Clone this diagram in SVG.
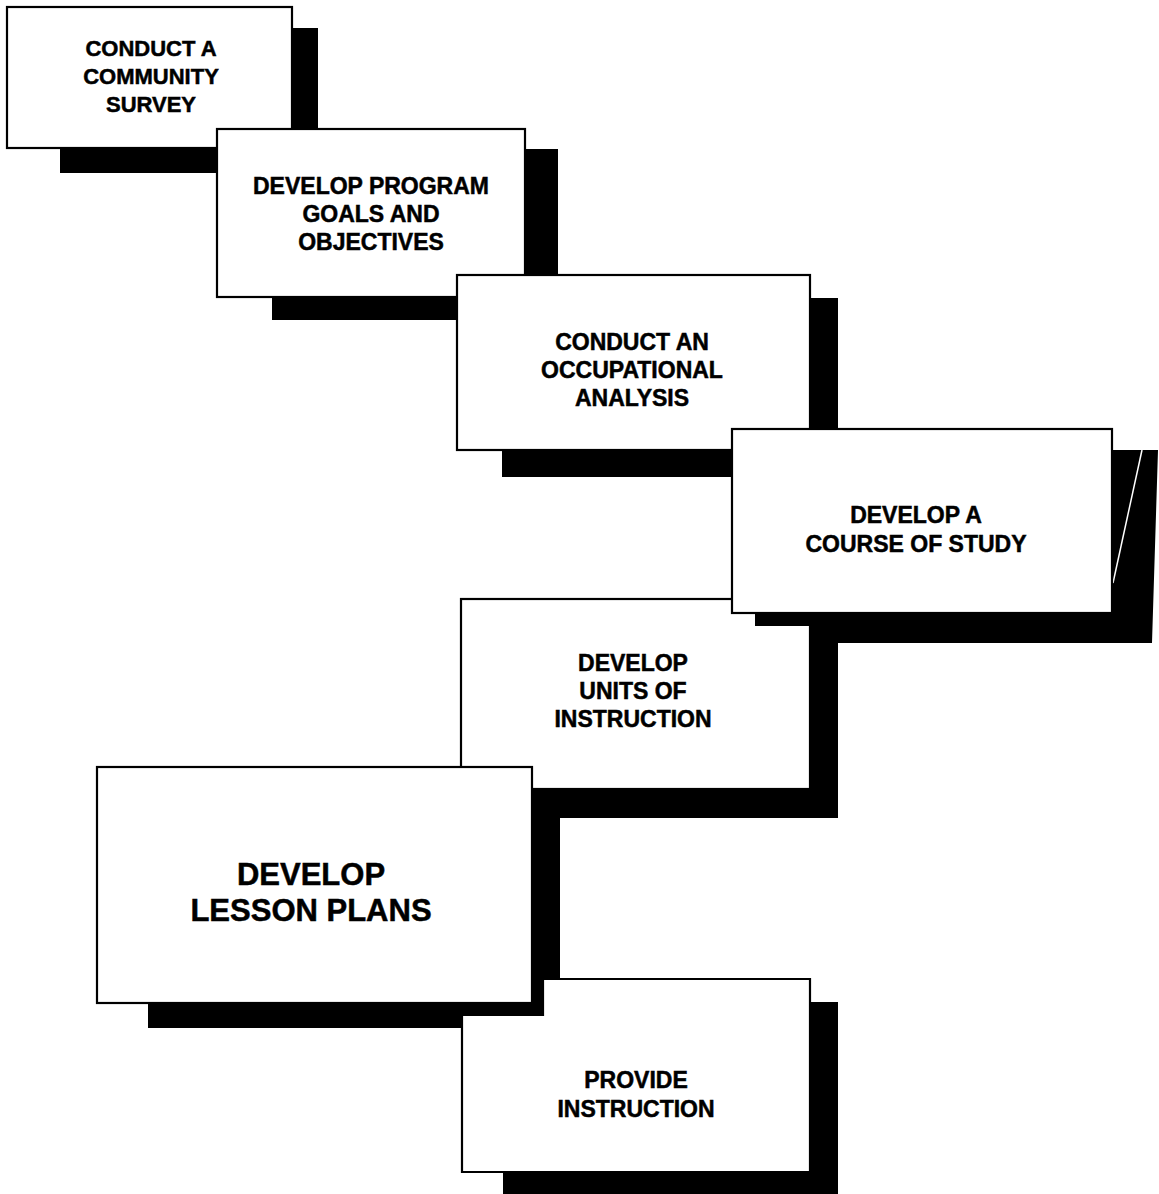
<svg xmlns="http://www.w3.org/2000/svg" width="1159" height="1194" viewBox="0 0 1159 1194">
<style>
.box{fill:#fff;stroke:#000;stroke-width:2.2}
.sh{fill:#000}
.t{font-family:"Liberation Sans",Arial,Helvetica,sans-serif;font-weight:bold;font-size:23px;fill:#000;stroke:#000;stroke-width:0.5;text-anchor:middle}
.tb{font-size:31px}
</style>
<rect width="1159" height="1194" fill="#fff"/>
<g id="node1">
<rect class="sh" x="60" y="28" width="258" height="145"/>
<rect class="box" x="7" y="7" width="285" height="141"/>
<text class="t" x="151" y="56" style="font-size:22px">CONDUCT A</text>
<text class="t" x="151" y="84" style="font-size:22px">COMMUNITY</text>
<text class="t" x="151" y="112" style="font-size:22px">SURVEY</text>
</g>
<g id="node2">
<rect class="sh" x="272" y="149" width="286" height="171"/>
<rect class="box" x="217" y="129" width="308" height="168"/>
<text class="t" x="371" y="194">DEVELOP PROGRAM</text>
<text class="t" x="371" y="222">GOALS AND</text>
<text class="t" x="371" y="250">OBJECTIVES</text>
</g>
<g id="node3">
<rect class="sh" x="502" y="298" width="336" height="179"/>
<rect class="box" x="457" y="275" width="353" height="175"/>
<text class="t" x="632" y="350">CONDUCT AN</text>
<text class="t" x="632" y="378">OCCUPATIONAL</text>
<text class="t" x="632" y="406">ANALYSIS</text>
</g>
<g id="node5">
<rect class="sh" x="530" y="643" width="308" height="175"/>
<rect class="box" x="461" y="599" width="349" height="190"/>
<text class="t" x="633" y="671">DEVELOP</text>
<text class="t" x="633" y="699">UNITS OF</text>
<text class="t" x="633" y="727">INSTRUCTION</text>
</g>
<g id="node4">
<polygon class="sh" points="1112,450 1158,450 1152,643 810,643 810,626 755,626 755,613"/>
<line x1="1142" y1="450" x2="1113" y2="583" stroke="#fff" stroke-width="1.5"/>
<rect class="box" x="732" y="429" width="380" height="184"/>
<text class="t" x="916" y="523">DEVELOP A</text>
<text class="t" x="916" y="552">COURSE OF STUDY</text>
</g>
<g id="node6">
<rect class="sh" x="148" y="789" width="412" height="239"/>
<rect class="box" x="97" y="767" width="435" height="236"/>
<text class="t tb" x="311" y="885">DEVELOP</text>
<text class="t tb" x="311" y="921">LESSON PLANS</text>
</g>
<g id="node7">
<rect class="sh" x="503" y="1002" width="335" height="192"/>
<polygon class="box" points="462,1015 543,1015 543,979 810,979 810,1172 462,1172"/>
<text class="t" x="636" y="1088">PROVIDE</text>
<text class="t" x="636" y="1117">INSTRUCTION</text>
</g>
<g id="connectors"></g>
</svg>
